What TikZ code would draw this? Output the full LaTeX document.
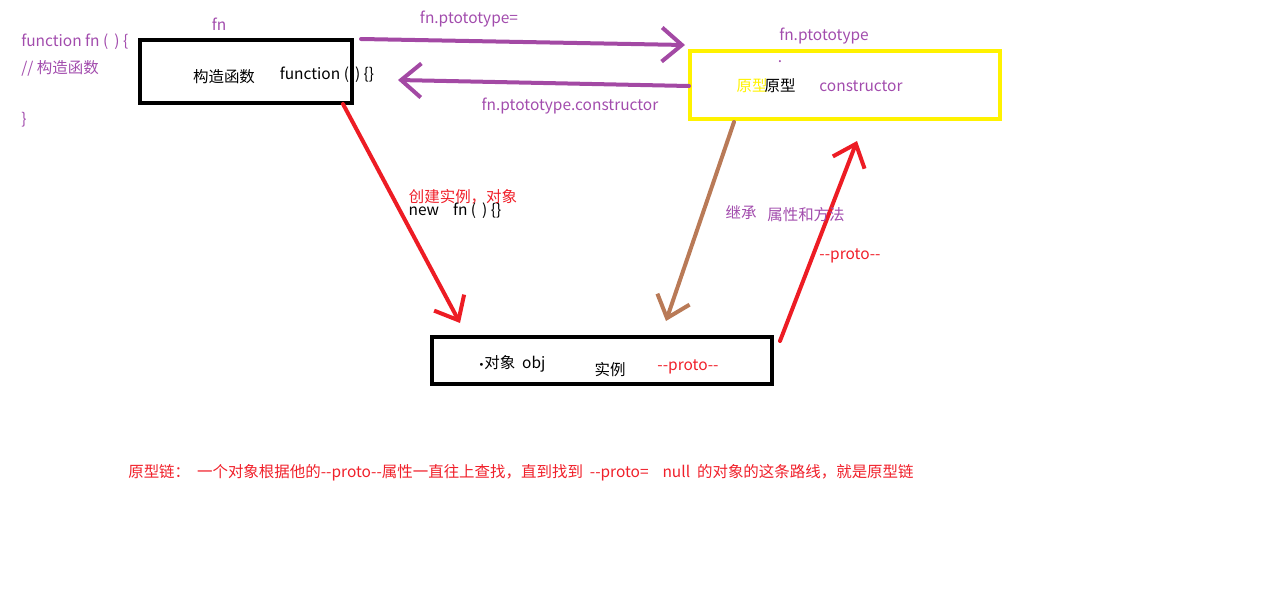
\documentclass[tikz,border=0pt]{standalone}
\usepackage{fontspec}
\setmainfont{Noto Sans CJK SC}[Ligatures=TeXOff]
\newfontfamily\dvfont{DejaVu Sans}
\usetikzlibrary{arrows.meta}
\definecolor{purplec}{HTML}{A349A4}
\definecolor{redc}{HTML}{ED1C24}
\definecolor{brownc}{HTML}{B97A57}
\definecolor{yellowc}{HTML}{FFF200}
\definecolor{ptext}{HTML}{A24CAD}
\definecolor{rtext}{HTML}{F0202A}
\tikzset{
  txt/.style={inner sep=0pt, font=\fontsize{11}{13}\selectfont},
  ptxt/.style={txt, text=ptext},
  rtxt/.style={txt, text=rtext},
  frame/.style={draw, line width=0.1cm, minimum width=#1, inner sep=0pt},
  arr/.style={-{Straight Barb[length=5mm, width=8.5mm]}, line width=0.1cm, line cap=round},
}
\begin{document}
\begin{tikzpicture}[x=0.025cm, y=-0.025cm]
  \useasboundingbox (0,0) rectangle (1272,593);
  % boxes
  \node[frame=5.3cm, minimum height=1.575cm] (fnbox) at (246,71.5) {};
  \node[frame=7.75cm, minimum height=1.7cm, draw=yellowc] (protobox) at (845,85) {};
  \node[frame=8.5cm, minimum height=1.175cm] (objbox) at (602,360.5) {};
  % code on the left
  \node[ptxt, anchor=west] (code1) at (21,42) {function fn (\ \,)\ \{};
  \node[ptxt, anchor=west] (code2) at (21,68) {// 构造函数};
  \node[ptxt, anchor=west] (code3) at (21,120) {\}};
  % constructor box
  \node[ptxt] (fnlbl) at (219,24) {fn};
  \node[txt] (ctor) at (224,77) {构造函数};
  \node[txt] (fnbody) at (327,75) {function (\ \,)\ \{\}};
  % prototype box
  \node[ptxt] (protolbl) at (824,36) {fn.ptototype};
  \node[ptxt] (dot) at (780,62) {.};
  \node[txt, text=yellowc] (yproto) at (752,86) {原型};
  \node[txt] (bproto) at (780,86) {原型};
  \node[ptxt] (ctorlbl) at (861,86) {constructor};
  % instance box
  \node[txt] (objlbl) at (512,364) {{\dvfont\fontsize{7}{8}\selectfont•}对象\ \ obj};
  \node[txt] (inst) at (610,370) {实例};
  \node[rtxt] (objproto) at (688,367) {--proto--};
  % arrow ends
  \coordinate (a1s) at (361,39);  \coordinate (a1e) at (685,45);
  \coordinate (a2s) at (689,86);  \coordinate (a2e) at (398,80);
  \coordinate (a3s) at (343,104); \coordinate (a3e) at (460,323);
  \coordinate (a4s) at (734,122); \coordinate (a4e) at (666,321);
  \coordinate (a5s) at (780,341); \coordinate (a5e) at (857,141);
  \draw[arr, purplec] (a1s) -- (a1e);
  \draw[arr, purplec] (a2s) -- (a2e);
  \draw[arr, redc] (a3s) -- (a3e);
  \draw[arr, brownc] (a4s) -- (a4e);
  \draw[arr, redc] (a5s) -- (a5e);
  % arrow labels
  \node[ptxt] (l1) at (469,19) {fn.ptototype=};
  \node[ptxt] (l2) at (570,106) {fn.ptototype.constructor};
  \node[rtxt] (l3) at (463,197) {创建实例，对象};
  \node[txt] (l4) at (455,211) {new\ \ \ \ fn (\ \,)\ \{\}};
  \node[ptxt] (l5) at (741,213) {继承};
  \node[ptxt] (l6) at (806,215) {属性和方法};
  \node[rtxt] (l7) at (850,256) {--proto--};
  % chain note
  \node[rtxt, anchor=west] (note) at (128,473) {原型链：\ \ 一个对象根据他的--proto--属性一直往上查找，直到找到\ \ --proto=\ \ \ \ null\ \ 的对象的这条路线，就是原型链};
\end{tikzpicture}
\end{document}
